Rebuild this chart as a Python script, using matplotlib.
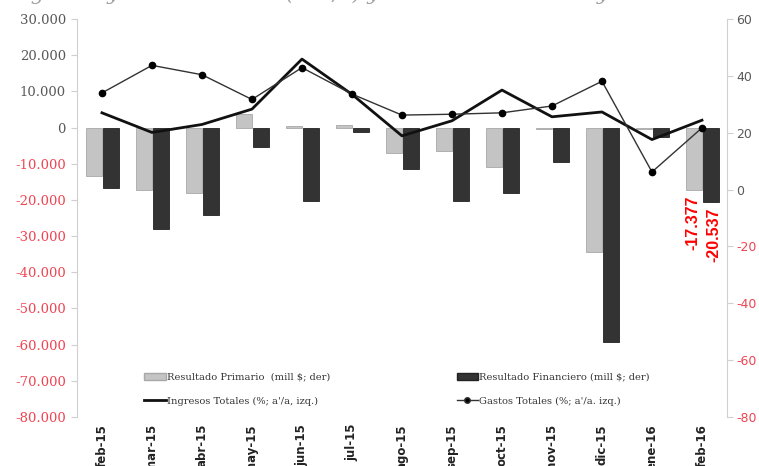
import numpy as np
import matplotlib
matplotlib.use("Agg")
import matplotlib.pyplot as plt
from matplotlib.ticker import FuncFormatter, MultipleLocator
from matplotlib.lines import Line2D
from matplotlib.patches import Patch

meses = ['feb-15', 'mar-15', 'abr-15', 'may-15', 'jun-15', 'jul-15', 'ago-15',
         'sep-15', 'oct-15', 'nov-15', 'dic-15', 'ene-16', 'feb-16']

# mill $
res_primario = [-13500, -17400, -18000, 3800, 300, 800, -7100,
                -6400, -10900, -300, -34400, -300, -17377]
res_financiero = [-16600, -28100, -24300, -5500, -20200, -1300, -11500,
                  -20200, -18000, -9400, -59300, -2500, -20537]

# % a/a
ingresos = [27.0, 20.1, 22.9, 28.3, 45.9, 33.5, 18.9,
            24.2, 35.0, 25.6, 27.3, 17.6, 24.4]
gastos = [34.0, 43.7, 40.4, 31.7, 42.9, 33.6, 26.2,
          26.5, 27.0, 29.4, 38.1, 6.2, 21.7]

GRIS_TXT = '#595959'
ROJO_TXT = '#EE4452'
plt.rcParams['font.family'] = 'DejaVu Serif'
plt.rcParams['axes.unicode_minus'] = False

fig = plt.figure(figsize=(7.59, 4.66), dpi=100)
ax = fig.add_axes([0.1014, 0.1052, 0.8564, 0.854])
ax2 = ax.twinx()

x = np.arange(len(meses))
w = 0.32
ax.bar(x - 0.16, res_primario, width=w, color='#C4C4C4', edgecolor='#A8A8A8', linewidth=0.6)
ax.bar(x + 0.18, res_financiero, width=w, color='#333333', edgecolor='#222222', linewidth=0.6)

ax2.plot(x, ingresos, color='#111111', linewidth=2.0)
ax2.plot(x, gastos, color='#333333', linewidth=1.0, marker='o', markersize=4.5,
         markerfacecolor='black', markeredgecolor='black')

ax.set_xlim(-0.5, len(meses) - 0.5)
ax.set_ylim(-80000, 30000)
ax2.set_ylim(-80, 60)
ax.yaxis.set_major_locator(MultipleLocator(10000))
ax2.yaxis.set_major_locator(MultipleLocator(20))

def miles(v, pos):
    return f"{v:,.0f}".replace(',', '.')

ax.yaxis.set_major_formatter(FuncFormatter(miles))

for a in (ax, ax2):
    for s in ('top', 'bottom'):
        a.spines[s].set_visible(False)
ax.tick_params(axis='y', length=4, color='#D0D0D0', labelsize=9.5, pad=4)
ax2.tick_params(axis='y', length=4.3, color='#D0D0D0', labelsize=9, pad=2.5,
                labelfontfamily='DejaVu Sans')
ax.spines['left'].set_color('#D0D0D0')
ax.spines['right'].set_visible(False)
ax2.spines['left'].set_visible(False)
ax2.spines['right'].set_color('#D0D0D0')

ax.set_xticks(x)
ax.set_xticklabels(meses, rotation=90, fontsize=8.5, fontweight='bold', color='#222222',
                   family='DejaVu Sans', va='top')
ax.tick_params(axis='x', length=0, pad=5)

fig.canvas.draw()
for a in (ax, ax2):
    for lab, val in zip(a.get_yticklabels(), a.get_yticks()):
        lab.set_color(ROJO_TXT if val < 0 else GRIS_TXT)

# valores del ultimo mes
ax.annotate(miles(res_primario[-1], None), (x[-1] - 0.16, res_primario[-1]),
            xytext=(-1, -4), textcoords='offset points', rotation=90,
            ha='center', va='top', color='red', fontweight='bold',
            fontsize=11.5, family='Liberation Sans')
ax.annotate(miles(res_financiero[-1], None), (x[-1] + 0.18, res_financiero[-1]),
            xytext=(2, -4), textcoords='offset points', rotation=90,
            ha='center', va='top', color='red', fontweight='bold',
            fontsize=11.5, family='Liberation Sans')

handles = [Patch(facecolor='#C4C4C4', edgecolor='#A8A8A8'),
           Line2D([], [], color='#111111', linewidth=2.0),
           Patch(facecolor='#333333', edgecolor='#222222'),
           Line2D([], [], color='#333333', linewidth=1.0, marker='o', markersize=4,
                  markerfacecolor='black')]
labels = ['Resultado Primario  (mill $; der)', "Ingresos Totales (%; a'/a, izq.)",
          'Resultado Financiero (mill $; der)', "Gastos Totales (%; a'/a. izq.)"]
leg = ax2.legend(handles, labels, ncol=2, frameon=False, loc='lower left',
                 bbox_to_anchor=(0.09, 0.006), prop={'size': 7.1},
                 handlelength=2.2, handletextpad=0.1, columnspacing=12.8, labelspacing=1.5)
for t in leg.get_texts():
    t.set_color('#333333')

fig.text(0.012, 1.012, "Ingresos y Gastos Totales (% a/a) y Resultado Primario y Financiero",
         style='italic', fontsize=15, color='#A0A0A0', va='center', ha='left')

fig.savefig('out.png', dpi=100)
